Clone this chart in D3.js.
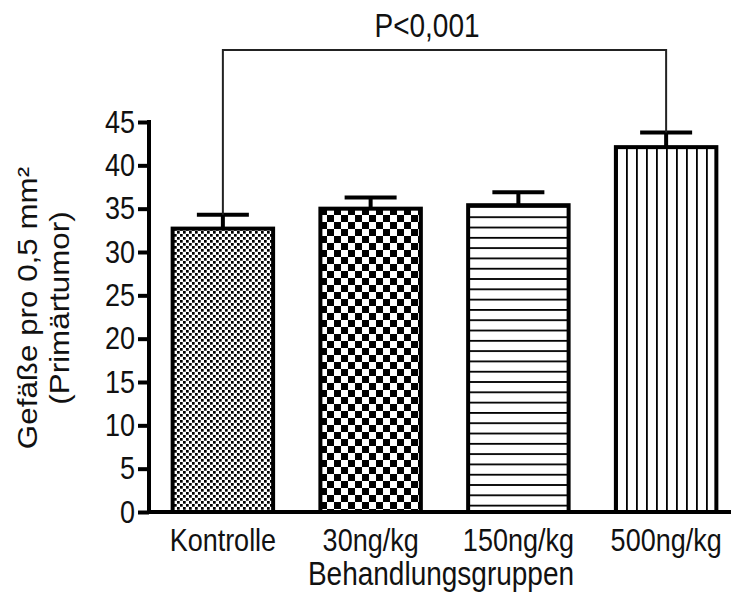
<!DOCTYPE html>
<html>
<head>
<meta charset="utf-8">
<script src="https://cdn.jsdelivr.net/npm/d3@7"></script>
<style>
  html, body { margin: 0; padding: 0; background: #fff; }
  text { font-family: "Liberation Sans", Arial, sans-serif; fill: #111; }
</style>
</head>
<body>
<div id="chart"></div>
<script>
const groups = ["Kontrolle", "30ng/kg", "150ng/kg", "500ng/kg"];
const means = [32.7, 35.0, 35.4, 42.1];
const errors = [1.6, 1.3, 1.5, 1.7];
const fills = ["fineChecker", "bigChecker", "hLines", "vLines"];
const yTicks = [0, 5, 10, 15, 20, 25, 30, 35, 40, 45];
const pLabel = "P<0,001";

const width = 731, height = 592;
const stretch = 1.16; // the original figure is a bit taller than wide in its lettering

const svg = d3.select("#chart")
  .append("svg")
  .attr("width", width)
  .attr("height", height);

// Patterns for the bars
const defs = svg.append("defs");

const p1 = defs.append("pattern").attr("id", "fineChecker")
  .attr("patternUnits", "userSpaceOnUse").attr("width", 6).attr("height", 6);
p1.append("rect").attr("width", 6).attr("height", 6).attr("fill", "#fff");
p1.append("rect").attr("x", 0).attr("y", 0).attr("width", 2.7).attr("height", 2.7).attr("fill", "#000");
p1.append("rect").attr("x", 3).attr("y", 3).attr("width", 2.7).attr("height", 2.7).attr("fill", "#000");

const p2 = defs.append("pattern").attr("id", "bigChecker")
  .attr("patternUnits", "userSpaceOnUse").attr("width", 14).attr("height", 14)
  .attr("x", 320).attr("y", 208);
p2.append("rect").attr("width", 14).attr("height", 14).attr("fill", "#fff");
p2.append("rect").attr("x", 0).attr("y", 0).attr("width", 7).attr("height", 7).attr("fill", "#000");
p2.append("rect").attr("x", 7).attr("y", 7).attr("width", 7).attr("height", 7).attr("fill", "#000");

const p3 = defs.append("pattern").attr("id", "hLines")
  .attr("patternUnits", "userSpaceOnUse").attr("width", 10).attr("height", 10.3);
p3.append("rect").attr("width", 10).attr("height", 10.3).attr("fill", "#fff");
p3.append("rect").attr("x", 0).attr("y", 0).attr("width", 10).attr("height", 1.8).attr("fill", "#000");

const p4 = defs.append("pattern").attr("id", "vLines")
  .attr("patternUnits", "userSpaceOnUse").attr("width", 10).attr("height", 10)
  .attr("x", 616);
p4.append("rect").attr("width", 10).attr("height", 10).attr("fill", "#fff");
p4.append("rect").attr("x", 0).attr("y", 0).attr("width", 1.8).attr("height", 10).attr("fill", "#000");

// Scales
const x = d3.scaleBand()
  .domain(groups)
  .range([149, 740])
  .paddingInner(0.32)
  .paddingOuter(0.16);

const y = d3.scaleLinear()
  .domain([0, 45])
  .range([512, 122]);

// Bars
svg.append("g")
  .selectAll("rect")
  .data(groups)
  .join("rect")
  .attr("x", d => x(d))
  .attr("y", (d, i) => y(means[i]))
  .attr("width", x.bandwidth())
  .attr("height", (d, i) => y(0) - y(means[i]))
  .attr("fill", (d, i) => `url(#${fills[i]})`)
  .attr("stroke", "#000")
  .attr("stroke-width", 4);

// Error bars (upper only)
const err = svg.append("g").attr("stroke", "#000").attr("stroke-width", 4);
groups.forEach((g, i) => {
  const cx = x(g) + x.bandwidth() / 2;
  err.append("line")
    .attr("x1", cx).attr("x2", cx)
    .attr("y1", y(means[i])).attr("y2", y(means[i] + errors[i]));
  err.append("line")
    .attr("x1", cx - 26).attr("x2", cx + 26)
    .attr("y1", y(means[i] + errors[i])).attr("y2", y(means[i] + errors[i]));
});

// Y axis
const yAxis = d3.axisLeft(y)
  .tickValues(yTicks)
  .tickSize(11)
  .tickSizeOuter(0)
  .tickPadding(3);

const ya = svg.append("g")
  .attr("transform", "translate(149,0)")
  .call(yAxis);
ya.selectAll("path, line").attr("stroke", "#000").attr("stroke-width", 4);
ya.select(".domain").attr("d", `M0,${y(45) - 2}V${y(0) + 2}`);
ya.selectAll("text")
  .style("font-size", "27px")
  .attr("font-family", "Liberation Sans, Arial, sans-serif")
  .attr("fill", "#111")
  .attr("dy", null)
  .attr("y", 0)
  .attr("transform", `translate(0,${0.32 * 27 * stretch}) scale(1,${stretch})`);

// X axis baseline
svg.append("line")
  .attr("x1", 147).attr("x2", x.range()[1])
  .attr("y1", y(0)).attr("y2", y(0))
  .attr("stroke", "#000").attr("stroke-width", 4);

// stretched text helper
function label(px, py, str, size) {
  return svg.append("text")
    .attr("transform", `translate(${px},${py}) scale(1,${stretch})`)
    .attr("text-anchor", "middle")
    .style("font-size", size + "px")
    .text(str);
}

// Category labels
groups.forEach(g => label(x(g) + x.bandwidth() / 2, 551, g, 27));

label(441, 585, "Behandlungsgruppen", 28);

// Y axis title
const yt = svg.append("text")
  .attr("transform", `translate(37,308) rotate(-90) scale(${stretch - 0.04},1)`)
  .attr("text-anchor", "middle")
  .style("font-size", "28px");
yt.append("tspan").attr("x", 0).attr("dy", 0).text("Gefäße pro 0,5 mm²");
yt.append("tspan").attr("x", 0).attr("dy", 32).text("(Primärtumor)");

// Significance bracket
const xa = x(groups[0]) + x.bandwidth() / 2;
const xb = x(groups[3]) + x.bandwidth() / 2;
const bracketY = 50;
svg.append("path")
  .attr("d", `M${xa},${y(means[0] + errors[0])}V${bracketY}H${xb}V${y(means[3] + errors[3])}`)
  .attr("fill", "none")
  .attr("stroke", "#222")
  .attr("stroke-width", 2);

label(427, 37, pLabel, 28);
</script>
</body>
</html>
